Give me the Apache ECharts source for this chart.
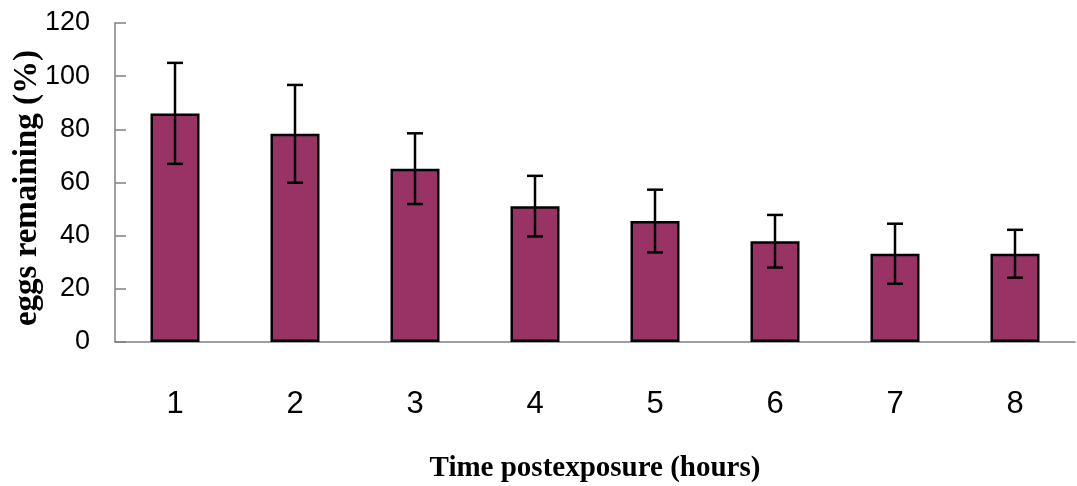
<!DOCTYPE html>
<html>
<head>
<meta charset="utf-8">
<script src="https://cdn.jsdelivr.net/npm/echarts@6/dist/echarts.min.js"></script>
<style>html,body{margin:0;padding:0;background:#fff}#c{width:1077px;height:486px}</style>
</head>
<body>
<div id="c"></div>
<script>
const categories = ['1','2','3','4','5','6','7','8'];
const means = [86, 78.3, 65.2, 51.1, 45.5, 37.9, 33.2, 33.2];
const errors = [19, 18.4, 13.3, 11.4, 11.8, 9.9, 11.3, 9.0];
const yTicks = [0, 20, 40, 60, 80, 100, 120];

const chart = echarts.init(document.getElementById('c'));
const labelFont = '"Liberation Sans Narrow", "Liberation Sans", Arial, sans-serif';
const titleFont = '"Liberation Serif", "Times New Roman", serif';

chart.setOption({
  animation: false,
  grid: { left: 115, right: 2, top: 23, bottom: 144, containLabel: false, outerBoundsMode: 'none' },
  xAxis: {
    type: 'category',
    data: categories,
    name: 'Time postexposure (hours)',
    nameLocation: 'middle',
    nameGap: 112,
    nameMoveOverlap: false,
    nameTextStyle: { fontFamily: titleFont, fontWeight: 'bold', fontSize: 29, color: '#000' },
    axisLine: { lineStyle: { color: '#808080', width: 1.5 } },
    axisTick: { inside: true, length: 11, lineStyle: { color: '#000', width: 1.5 } },
    axisLabel: { margin: 47, fontFamily: labelFont, fontSize: 31, color: '#000' }
  },
  yAxis: {
    type: 'value',
    min: yTicks[0],
    max: yTicks[yTicks.length - 1],
    interval: 20,
    name: 'eggs remaining (%)',
    nameLocation: 'middle',
    nameGap: 71,
    nameMoveOverlap: false,
    nameTextStyle: { fontFamily: titleFont, fontWeight: 'bold', fontSize: 33, color: '#000', padding: [0, 11, 0, 0] },
    axisLine: { show: true, lineStyle: { color: '#808080', width: 1.5 } },
    axisTick: { show: true, inside: true, length: 11, lineStyle: { color: '#808080', width: 1.5 } },
    splitLine: { show: false },
    axisLabel: { margin: 25, fontFamily: labelFont, fontSize: 27, color: '#000' }
  },
  series: [
    {
      type: 'bar',
      data: means,
      barWidth: 49,
      itemStyle: { color: '#993366', borderColor: '#000', borderWidth: 2.5 }
    },
    {
      type: 'custom',
      data: means.map((m, i) => [i, m - errors[i], m + errors[i]]),
      renderItem: function (params, api) {
        const lo = api.coord([api.value(0), api.value(1)]);
        const hi = api.coord([api.value(0), api.value(2)]);
        const hw = 8;
        const st = { stroke: '#000', lineWidth: 2.5 };
        return {
          type: 'group',
          children: [
            { type: 'line', shape: { x1: hi[0], y1: hi[1], x2: lo[0], y2: lo[1] }, style: st },
            { type: 'line', shape: { x1: hi[0] - hw, y1: hi[1], x2: hi[0] + hw, y2: hi[1] }, style: st },
            { type: 'line', shape: { x1: lo[0] - hw, y1: lo[1], x2: lo[0] + hw, y2: lo[1] }, style: st }
          ]
        };
      },
      z: 10
    }
  ]
});
</script>
</body>
</html>
